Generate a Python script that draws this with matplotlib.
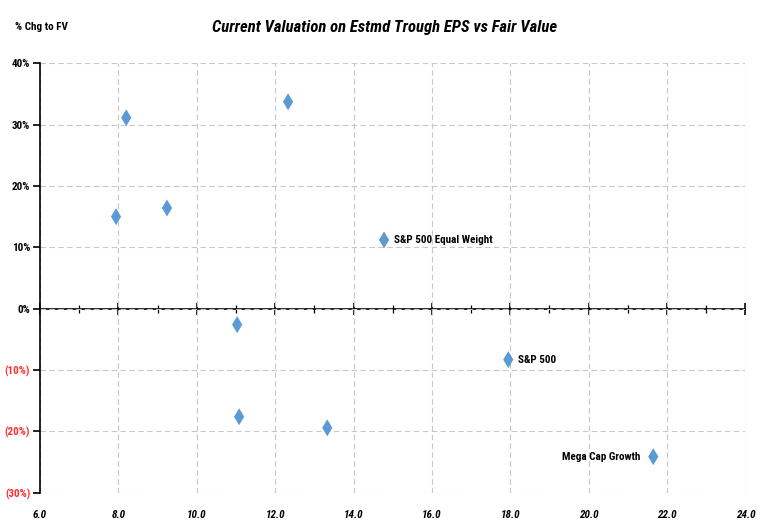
import matplotlib.pyplot as plt
import numpy as np
from matplotlib import font_manager

# Valores (P/E sobre EPS minimo estimado, % cambio a valor justo)
pe_trough = [7.94, 8.2, 9.24, 12.33, 14.78, 11.03, 11.08, 13.33, 17.95, 21.65]
chg_fv = [15.0, 31.1, 16.4, 33.7, 11.2, -2.6, -17.6, -19.4, -8.3, -24.1]
etiquetas = ['', '', '', '', 'S&P 500 Equal Weight', '', '', '', 'S&P 500', 'Mega Cap Growth']

x_ticks = np.arange(6, 24.1, 2)
y_ticks = np.arange(-30, 41, 10)

nombres = {f.name for f in font_manager.fontManager.ttflist}
candidatas = ['Liberation Sans Narrow', 'DejaVu Sans Condensed', 'Roboto Condensed',
              'Open Sans Condensed', 'Noto Sans']
fuente = next((c for c in candidatas if c in nombres), 'DejaVu Sans')
plt.rcParams['font.family'] = [fuente, 'DejaVu Sans']

azul = '#5B9BD5'

fig = plt.figure(figsize=(7.7, 5.26), dpi=100)
ax = fig.add_axes([0.052, 0.063, 0.916, 0.817])

ax.scatter(pe_trough, chg_fv, marker='d', s=75, color=azul, zorder=3,
           edgecolors='none')

for x, y, txt in zip(pe_trough, chg_fv, etiquetas):
    if not txt:
        continue
    if txt == 'Mega Cap Growth':
        ax.annotate(txt, (x, y), xytext=(-9, 0), textcoords='offset points',
                    ha='right', va='center', fontsize=8, fontweight='bold')
    else:
        ax.annotate(txt, (x, y), xytext=(7, 0), textcoords='offset points',
                    ha='left', va='center', fontsize=8, fontweight='bold')

ax.set_xlim(6, 24)
ax.set_ylim(-30, 40)
ax.set_xticks(x_ticks)
ax.set_xticklabels([f'{v:.1f}' for v in x_ticks], fontsize=8,
                   fontweight='bold', style='italic')
ax.set_yticks(y_ticks)
ylabels = [f'({abs(int(v))}%)' if v < 0 else f'{int(v)}%' for v in y_ticks]
ax.set_yticklabels(ylabels, fontsize=8, fontweight='bold')
for lab, v in zip(ax.get_yticklabels(), y_ticks):
    if v < 0:
        lab.set_color('#FF3030')

ax.grid(True, linestyle=(0, (5, 3)), color='#C8C8C8', linewidth=0.8)
ax.set_axisbelow(True)
for lado in ['top', 'right', 'bottom']:
    ax.spines[lado].set_visible(False)
ax.spines['left'].set_linewidth(1.2)
ax.tick_params(axis='x', length=0, pad=12)
ax.tick_params(axis='y', length=5, width=1.2, direction='out', pad=2)

# linea del cero con marcas
eje0 = ax.secondary_xaxis(30 / 70)
eje0.set_xticks(x_ticks)
eje0.set_xticklabels([])
eje0.set_xticks(np.arange(7, 24, 2), minor=True)
eje0.tick_params(which='major', direction='inout', length=8, width=1.2)
eje0.tick_params(which='minor', direction='inout', length=6, width=0.9)
eje0.spines['bottom'].set_linewidth(1.2)

fig.text(0.5, 0.948, 'Current Valuation on Estmd Trough EPS vs Fair Value',
         ha='center', va='center', fontsize=12, fontweight='bold', style='italic')
fig.text(0.02, 0.948, '% Chg to FV', ha='left', va='center', fontsize=8,
         fontweight='bold')

fig.savefig('out.png', dpi=100)
